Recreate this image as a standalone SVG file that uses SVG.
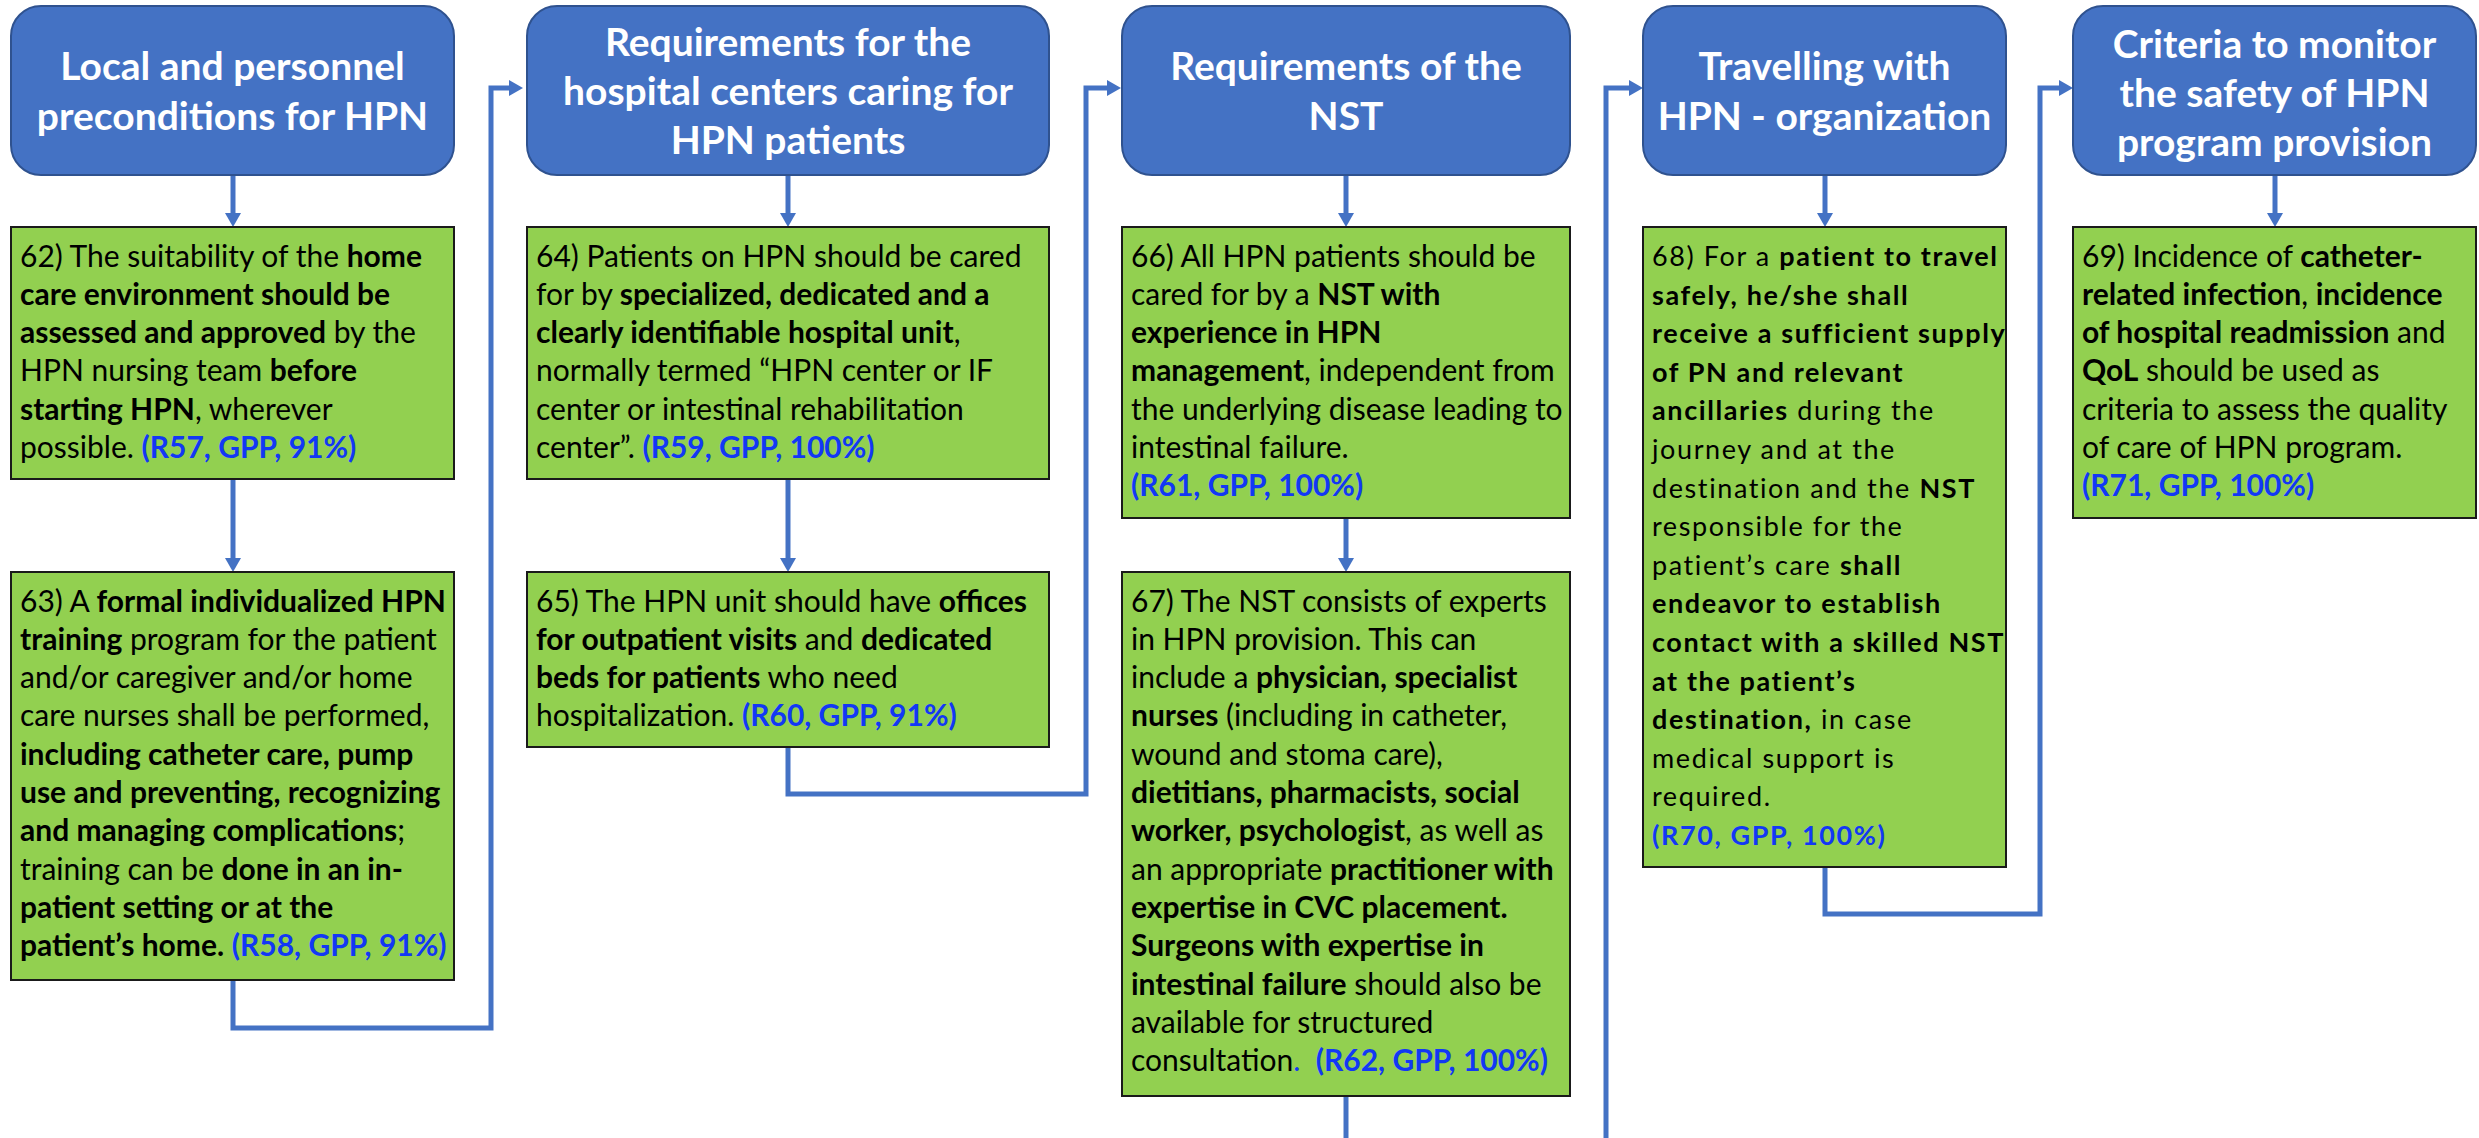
<svg xmlns="http://www.w3.org/2000/svg" width="2479" height="1138" viewBox="0 0 2479 1138">
<defs>
<marker id="ah" markerUnits="userSpaceOnUse" markerWidth="14" markerHeight="16" viewBox="0 0 14 16" refX="0" refY="8" orient="auto">
<path d="M0,0 L14,8 L0,16 z" fill="#4472C4"/>
</marker>
<style>
.hdr rect{fill:#4472C4;stroke:#2F528F;stroke-width:2}
.hdr text{font-family:Lato,"Liberation Sans",sans-serif;font-weight:700;font-size:39px;fill:#fff;text-anchor:middle}
.box rect{fill:#92D050;stroke:#1a1a1a;stroke-width:2}
.box text{font-family:Lato,"Liberation Sans",sans-serif;font-size:30px;fill:#000}
.box text.w{font-size:27px;letter-spacing:1.6px}
.box .b{font-weight:700}
.box .ref{font-weight:700;fill:#1238F5}
.box .bl{fill:#1238F5}
.conn{fill:none;stroke:#4472C4;stroke-width:5}
</style>
</defs>

<g id="connectors">
<path class="conn" d="M233,175 V213" marker-end="url(#ah)"/>
<path class="conn" d="M233,479 V558" marker-end="url(#ah)"/>
<path class="conn" d="M233,980 V1028 H491 V88 H509" marker-end="url(#ah)"/>
<path class="conn" d="M788,175 V213" marker-end="url(#ah)"/>
<path class="conn" d="M788,479 V558" marker-end="url(#ah)"/>
<path class="conn" d="M788,747 V794 H1086 V88 H1107" marker-end="url(#ah)"/>
<path class="conn" d="M1346,175 V213" marker-end="url(#ah)"/>
<path class="conn" d="M1346,518 V558" marker-end="url(#ah)"/>
<path class="conn" d="M1346,1096 V1140"/>
<path class="conn" d="M1606,1140 V88 H1629" marker-end="url(#ah)"/>
<path class="conn" d="M1825,175 V213" marker-end="url(#ah)"/>
<path class="conn" d="M1825,867 V914 H2040 V88 H2059" marker-end="url(#ah)"/>
<path class="conn" d="M2275,175 V213" marker-end="url(#ah)"/>
</g>

<g id="h1" class="hdr">
<rect x="11" y="6" width="443" height="169" rx="30"/>
<text x="232.5" y="80">Local and personnel</text>
<text x="232.5" y="130">preconditions for HPN</text>
</g>
<g id="h2" class="hdr">
<rect x="527" y="6" width="522" height="169" rx="30"/>
<text x="788" y="56">Requirements for the</text>
<text x="788" y="105">hospital centers caring for</text>
<text x="788" y="154">HPN patients</text>
</g>
<g id="h3" class="hdr">
<rect x="1122" y="6" width="448" height="169" rx="30"/>
<text x="1346" y="80">Requirements of the</text>
<text x="1346" y="130">NST</text>
</g>
<g id="h4" class="hdr">
<rect x="1643" y="6" width="363" height="169" rx="30"/>
<text x="1824.5" y="80">Travelling with</text>
<text x="1824.5" y="130">HPN - organization</text>
</g>
<g id="h5" class="hdr">
<rect x="2073" y="6" width="403" height="169" rx="30"/>
<text x="2274.5" y="58">Criteria to monitor</text>
<text x="2274.5" y="107">the safety of HPN</text>
<text x="2274.5" y="156">program provision</text>
</g>

<g id="b62" class="box">
<rect x="11" y="227" width="443" height="252"/>
<text x="20" y="266.5">62) The suitability of the <tspan class="b">home</tspan></text>
<text x="20" y="304.8" class="b">care environment should be</text>
<text x="20" y="343.1"><tspan class="b">assessed and approved</tspan> by the</text>
<text x="20" y="381.4">HPN nursing team <tspan class="b">before</tspan></text>
<text x="20" y="419.7"><tspan class="b">starting HPN</tspan>, wherever</text>
<text x="20" y="458">possible. <tspan class="ref">(R57, GPP, 91%)</tspan></text>
</g>

<g id="b63" class="box">
<rect x="11" y="572" width="443" height="408"/>
<text x="20" y="611.5">63) A <tspan class="b">formal individualized HPN</tspan></text>
<text x="20" y="649.8"><tspan class="b">training</tspan> program for the patient</text>
<text x="20" y="688.1">and/or caregiver and/or home</text>
<text x="20" y="726.4">care nurses shall be performed,</text>
<text x="20" y="764.7" class="b">including catheter care, pump</text>
<text x="20" y="803" class="b">use and preventing, recognizing</text>
<text x="20" y="841.3"><tspan class="b">and managing complications</tspan>;</text>
<text x="20" y="879.6">training can be <tspan class="b">done in an in-</tspan></text>
<text x="20" y="917.9" class="b">patient setting or at the</text>
<text x="20" y="956.2"><tspan class="b">patient’s home.</tspan> <tspan class="ref">(R58, GPP, 91%)</tspan></text>
</g>

<g id="b64" class="box">
<rect x="527" y="227" width="522" height="252"/>
<text x="536" y="266.5">64) Patients on HPN should be cared</text>
<text x="536" y="304.8">for by <tspan class="b">specialized, dedicated and a</tspan></text>
<text x="536" y="343.1"><tspan class="b">clearly identifiable hospital unit</tspan>,</text>
<text x="536" y="381.4">normally termed “HPN center or IF</text>
<text x="536" y="419.7">center or intestinal rehabilitation</text>
<text x="536" y="458">center”. <tspan class="ref">(R59, GPP, 100%)</tspan></text>
</g>

<g id="b65" class="box">
<rect x="527" y="572" width="522" height="175"/>
<text x="536" y="611.5">65) The HPN unit should have <tspan class="b">offices</tspan></text>
<text x="536" y="649.8"><tspan class="b">for outpatient visits</tspan> and <tspan class="b">dedicated</tspan></text>
<text x="536" y="688.1"><tspan class="b">beds for patients</tspan> who need</text>
<text x="536" y="726.4">hospitalization. <tspan class="ref">(R60, GPP, 91%)</tspan></text>
</g>

<g id="b66" class="box">
<rect x="1122" y="227" width="448" height="291"/>
<text x="1131" y="266.5">66) All HPN patients should be</text>
<text x="1131" y="304.8">cared for by a <tspan class="b">NST with</tspan></text>
<text x="1131" y="343.1" class="b">experience in HPN</text>
<text x="1131" y="381.4"><tspan class="b">management</tspan>, independent from</text>
<text x="1131" y="419.7">the underlying disease leading to</text>
<text x="1131" y="458">intestinal failure.</text>
<text x="1131" y="496.3" class="ref">(R61, GPP, 100%)</text>
</g>

<g id="b67" class="box">
<rect x="1122" y="572" width="448" height="524"/>
<text x="1131" y="611.5">67) The NST consists of experts</text>
<text x="1131" y="649.8">in HPN provision. This can</text>
<text x="1131" y="688.1">include a <tspan class="b">physician, specialist</tspan></text>
<text x="1131" y="726.4"><tspan class="b">nurses</tspan> (including in catheter,</text>
<text x="1131" y="764.7">wound and stoma care),</text>
<text x="1131" y="803" class="b">dietitians, pharmacists, social</text>
<text x="1131" y="841.3"><tspan class="b">worker, psychologist</tspan>, as well as</text>
<text x="1131" y="879.6">an appropriate <tspan class="b">practitioner with</tspan></text>
<text x="1131" y="917.9" class="b">expertise in CVC placement.</text>
<text x="1131" y="956.2" class="b">Surgeons with expertise in</text>
<text x="1131" y="994.5"><tspan class="b">intestinal failure</tspan> should also be</text>
<text x="1131" y="1032.8">available for structured</text>
<text x="1131" y="1071.1" xml:space="preserve">consultation<tspan class="bl">.  </tspan><tspan class="ref">(R62, GPP, 100%)</tspan></text>
</g>

<g id="b68" class="box">
<rect x="1643" y="227" width="363" height="640"/>
<text class="w" x="1652" y="266">68) For a <tspan class="b">patient to travel</tspan></text>
<text class="w b" x="1652" y="304.6">safely, he/she shall</text>
<text class="w b" x="1652" y="343.2">receive a sufficient supply</text>
<text class="w b" x="1652" y="381.8">of PN and relevant</text>
<text class="w" x="1652" y="420.4"><tspan class="b">ancillaries</tspan> during the</text>
<text class="w" x="1652" y="459">journey and at the</text>
<text class="w" x="1652" y="497.6">destination and the <tspan class="b">NST</tspan></text>
<text class="w" x="1652" y="536.2">responsible for the</text>
<text class="w" x="1652" y="574.8">patient’s care <tspan class="b">shall</tspan></text>
<text class="w b" x="1652" y="613.4">endeavor to establish</text>
<text class="w b" x="1652" y="652">contact with a skilled NST</text>
<text class="w b" x="1652" y="690.6">at the patient’s</text>
<text class="w" x="1652" y="729.2"><tspan class="b">destination,</tspan> in case</text>
<text class="w" x="1652" y="767.8">medical support is</text>
<text class="w" x="1652" y="806.4">required.</text>
<text class="w ref" x="1652" y="845">(R70, GPP, 100%)</text>
</g>

<g id="b69" class="box">
<rect x="2073" y="227" width="403" height="291"/>
<text x="2082" y="266.5">69) Incidence of <tspan class="b">catheter-</tspan></text>
<text x="2082" y="304.8"><tspan class="b">related infection</tspan>, <tspan class="b">incidence</tspan></text>
<text x="2082" y="343.1"><tspan class="b">of hospital readmission</tspan> and</text>
<text x="2082" y="381.4"><tspan class="b">QoL</tspan> should be used as</text>
<text x="2082" y="419.7">criteria to assess the quality</text>
<text x="2082" y="458">of care of HPN program.</text>
<text x="2082" y="496.3" class="ref">(R71, GPP, 100%)</text>
</g>
</svg>
